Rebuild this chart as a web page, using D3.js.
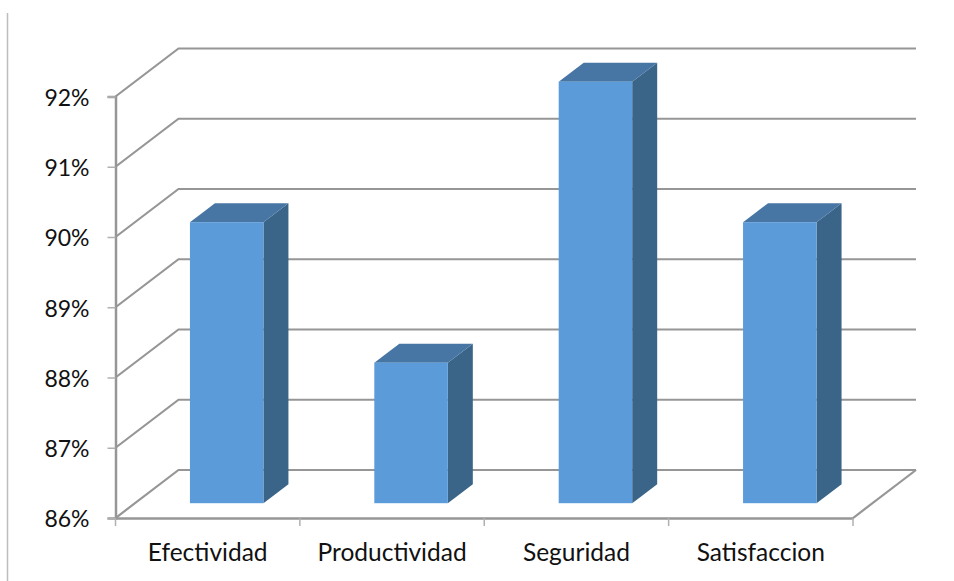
<!DOCTYPE html>
<html>
<head>
<meta charset="utf-8">
<script src="https://cdn.jsdelivr.net/npm/d3@7"></script>
<style>
  html, body { margin: 0; background: #fff; }
  text { font-family: Lato, "Open Sans", sans-serif; fill: #111; }
</style>
</head>
<body>
<div id="chart"></div>
<script>
const categories = ['Efectividad', 'Productividad', 'Seguridad', 'Satisfaccion'];
const values = [90, 88, 92, 90];
const tickValues = [86, 87, 88, 89, 90, 91, 92];

const width = 954;
const height = 581;
const gray = '#969696';

const x = d3.scaleBand().domain(categories).range([115.5, 853]);
const y = d3.scaleLinear().domain([86, 92]).range([518, 96.5]);

// wall depth of the pseudo 3d box, and where the bars sit inside it
const wall = { dx: 63, dy: -48 };
const inset = { dx: 19, dy: -14.8 };
const depth = { dx: 25, dy: -19 };
const barWidth = 73.5;

const svg = d3.select('#chart')
  .append('svg')
  .attr('width', width)
  .attr('height', height)
  .style('display', 'block');

// rule on the left edge of the frame
svg.append('line')
  .attr('x1', 7.5).attr('x2', 7.5)
  .attr('y1', 13).attr('y2', height)
  .attr('stroke', '#bdbdbd')
  .attr('stroke-width', 1.5);

const x0 = x.range()[0];
const x1 = x.range()[1];

const grid = svg.append('g')
  .attr('fill', 'none')
  .attr('stroke', gray)
  .attr('stroke-width', 2.2);

grid.selectAll('path')
  .data(tickValues)
  .join('path')
  .attr('d', (d) => `M${x0},${y(d)}L${x0 + wall.dx},${y(d) + wall.dy}H${x1 + wall.dx}`);

// right edge of the floor
grid.append('path')
  .attr('d', `M${x1},${y(86)}L${x1 + wall.dx},${y(86) + wall.dy}`);

const axisLeft = d3.axisLeft(y)
  .tickValues(tickValues)
  .tickFormat((d) => `${d}%`)
  .tickSize(8)
  .tickPadding(18);

const axisBottom = d3.axisBottom(x)
  .tickSize(0)
  .tickPadding(26);

const gy = svg.append('g')
  .attr('transform', `translate(${x0},0)`)
  .call(axisLeft);

const gx = svg.append('g')
  .attr('transform', `translate(0,${y(86)})`)
  .call(axisBottom);

[gy, gx].forEach((g) => {
  g.select('.domain').attr('stroke', gray).attr('stroke-width', 2.5);
  g.selectAll('.tick line').attr('stroke', '#b0b0b0').attr('stroke-width', 1.5);
  g.selectAll('text').attr('font-family', null).attr('fill', '#111');
});

gy.selectAll('text').attr('font-size', 23).attr('dy', '0.38em');
gx.selectAll('text').attr('font-size', 24.5);

// category separators hang below the floor line
gx.selectAll('.sep')
  .data(d3.range(categories.length + 1))
  .join('line')
  .attr('class', 'sep')
  .attr('x1', (i) => x0 + i * x.step())
  .attr('x2', (i) => x0 + i * x.step())
  .attr('y1', 0)
  .attr('y2', 8)
  .attr('stroke', '#b0b0b0')
  .attr('stroke-width', 1.5);

const bars = svg.append('g')
  .selectAll('g')
  .data(categories.map((name, i) => ({ name, value: values[i] })))
  .join('g')
  .attr('transform', (d) => {
    const left = x(d.name) + x.bandwidth() / 2 + inset.dx - barWidth / 2;
    return `translate(${left},${inset.dy})`;
  });

// side face
bars.append('path')
  .attr('fill', '#3a6488')
  .attr('d', (d) => `M${barWidth},${y(d.value)}l${depth.dx},${depth.dy}V${y(86) + depth.dy}L${barWidth},${y(86)}Z`);

// top face
bars.append('path')
  .attr('fill', '#4776a5')
  .attr('d', (d) => `M0,${y(d.value)}l${depth.dx},${depth.dy}h${barWidth}l${-depth.dx},${-depth.dy}Z`);

// front face
bars.append('rect')
  .attr('fill', '#5b9bd9')
  .attr('width', barWidth)
  .attr('y', (d) => y(d.value))
  .attr('height', (d) => y(86) - y(d.value));
</script>
</body>
</html>
